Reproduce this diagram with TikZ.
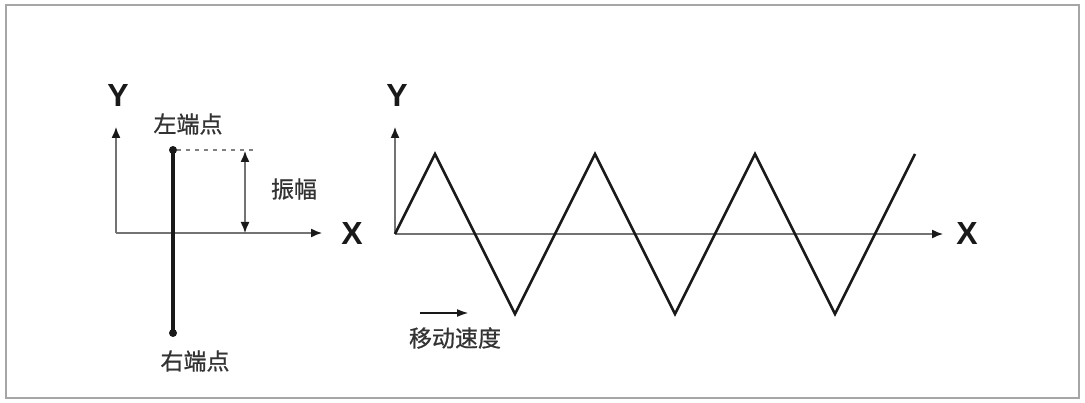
\documentclass[tikz,border=0pt]{standalone}
\usepackage{fontspec}
\setmainfont{Liberation Sans}
\newfontfamily\cjk[FakeBold=0.8]{Noto Sans CJK SC}
\usetikzlibrary{arrows.meta,calc}

\begin{document}
\begin{tikzpicture}[x=1pt, y=-1pt,
  head/.style={Latex[length=11pt,width=9pt,color=black!90]},
  axis/.style={-{Latex[length=11pt,width=9pt,color=black!90]}, line width=1.4pt, black!55},
  wave/.style={line width=2.5pt, black!90, line join=miter},
  rod/.style={line width=3.2pt, black!90},
  tip/.style={circle, fill=black!90, inner sep=0pt, minimum size=8pt},
  axlabel/.style={font=\fontsize{32}{34}\selectfont\bfseries, text=black!90},
  cn/.style={font=\cjk\fontsize{23}{25}\selectfont, text=black!80}
]
\useasboundingbox (0,0) rectangle (1085,403);
\draw[black!35, line width=2pt] (6,5) rectangle (1079,398);

% left: swing of the rod
\coordinate (o1) at (116,233);
\coordinate (x1) at (322,233);
\coordinate (y1) at (116,127);
\draw[axis] (o1) -- (x1);
\draw[axis] (o1) -- (y1);
\node[axlabel] (xl1) at (352,233) {X};
\node[axlabel] (yl1) at (118,95) {Y};

\node[tip] (left) at (173,150) {};
\node[tip] (right) at (173,333) {};
\draw[rod] (left.center) -- (right.center);
\node[cn] (leftl) at (188,124) {左端点};
\node[cn] (rightl) at (195,361) {右端点};

\coordinate (dashend) at (257,150);
\draw[black!50, line width=1.2pt, dash pattern=on 4pt off 5pt] (left) -- (dashend);
\coordinate (ampt) at (245,151);
\coordinate (ampb) at (245,233);
\draw[{Latex[length=11pt,width=9pt,color=black!90]}-{Latex[length=11pt,width=9pt,color=black!90]}, line width=1.4pt, black!55] (ampt) -- (ampb);
\node[cn] (amp) at (294,189) {振幅};

% right: zigzag path
\coordinate (o2) at (395,234);
\coordinate (x2) at (943,234);
\coordinate (y2) at (395,127);
\draw[axis] (o2) -- (x2);
\draw[axis] (o2) -- (y2);
\node[axlabel] (xl2) at (967,233) {X};
\node[axlabel] (yl2) at (397,95) {Y};

\draw[wave] (o2) -- (435,154)
  \foreach \k in {0,1,2} {-- ++(80,160) -- ++(80,-160)};

\coordinate (vs) at (420,313);
\coordinate (ve) at (469,313);
\draw[-{Latex[length=12pt,width=8pt]}, line width=2.2pt, black!90] (vs) -- (ve);
\node[cn] (speed) at (455,338) {移动速度};
\end{tikzpicture}
\end{document}
